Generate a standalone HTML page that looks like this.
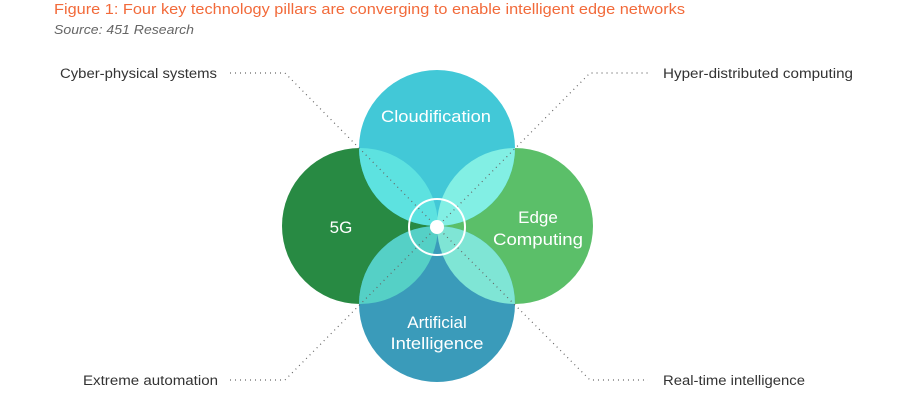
<!DOCTYPE html>
<html><head><style>
body{margin:0;width:898px;height:402px;background:#fff;overflow:hidden;font-family:"Liberation Sans",sans-serif}
</style></head><body>
<svg width="898" height="402" xmlns="http://www.w3.org/2000/svg" style="position:absolute;left:0;top:0">
<defs>
<clipPath id="cT"><circle cx="437" cy="148" r="78"/></clipPath>
<clipPath id="cB"><circle cx="437" cy="304" r="78"/></clipPath>
</defs>
<text x="54" y="14" font-size="15" fill="#f26a3a" font-family="Liberation Sans" textLength="631" lengthAdjust="spacingAndGlyphs">Figure 1: Four key technology pillars are converging to enable intelligent edge networks</text>
<text x="54" y="34" font-size="13" fill="#666" font-style="italic" font-family="Liberation Sans" textLength="140" lengthAdjust="spacingAndGlyphs">Source: 451 Research</text>
<circle cx="360" cy="226" r="78" fill="#288a43"/>
<circle cx="515" cy="226" r="78" fill="#5bbf69"/>
<circle cx="437" cy="148" r="78" fill="#42c8d7"/>
<circle cx="437" cy="304" r="78" fill="#3a9bba"/>
<g clip-path="url(#cT)">
<circle cx="360" cy="226" r="78" fill="#5de2e0"/>
<circle cx="515" cy="226" r="78" fill="#82efe4"/>
</g>
<g clip-path="url(#cB)">
<circle cx="360" cy="226" r="78" fill="#55d0c6"/>
<circle cx="515" cy="226" r="78" fill="#7fe5d5"/>
</g>
<g stroke="#666" stroke-width="1.2" stroke-dasharray="1,4" fill="none">
<polyline points="230,73 285,73 437,227 590,73 648,73"/>
<polyline points="230,380 285,380 437,227 590,380 648,380"/>
</g>
<circle cx="437" cy="227" r="28" fill="none" stroke="#fff" stroke-width="2"/>
<circle cx="437" cy="227" r="7" fill="#fff"/>
<g font-family="Liberation Sans" fill="#fff" font-size="17" text-anchor="middle">
<text x="436" y="122" textLength="110" lengthAdjust="spacingAndGlyphs">Cloudification</text>
<text x="341" y="233">5G</text>
<text x="538" y="223">Edge</text>
<text x="538" y="245" textLength="90" lengthAdjust="spacingAndGlyphs">Computing</text>
<text x="437" y="328">Artificial</text>
<text x="437" y="349" textLength="93" lengthAdjust="spacingAndGlyphs">Intelligence</text>
</g>
<g font-family="Liberation Sans" fill="#333" font-size="13.5">
<text x="60" y="78" textLength="157" lengthAdjust="spacingAndGlyphs">Cyber-physical systems</text>
<text x="663" y="78" textLength="190" lengthAdjust="spacingAndGlyphs">Hyper-distributed computing</text>
<text x="83" y="385" textLength="135" lengthAdjust="spacingAndGlyphs">Extreme automation</text>
<text x="663" y="385" textLength="142" lengthAdjust="spacingAndGlyphs">Real-time intelligence</text>
</g>
</svg>
</body></html>
